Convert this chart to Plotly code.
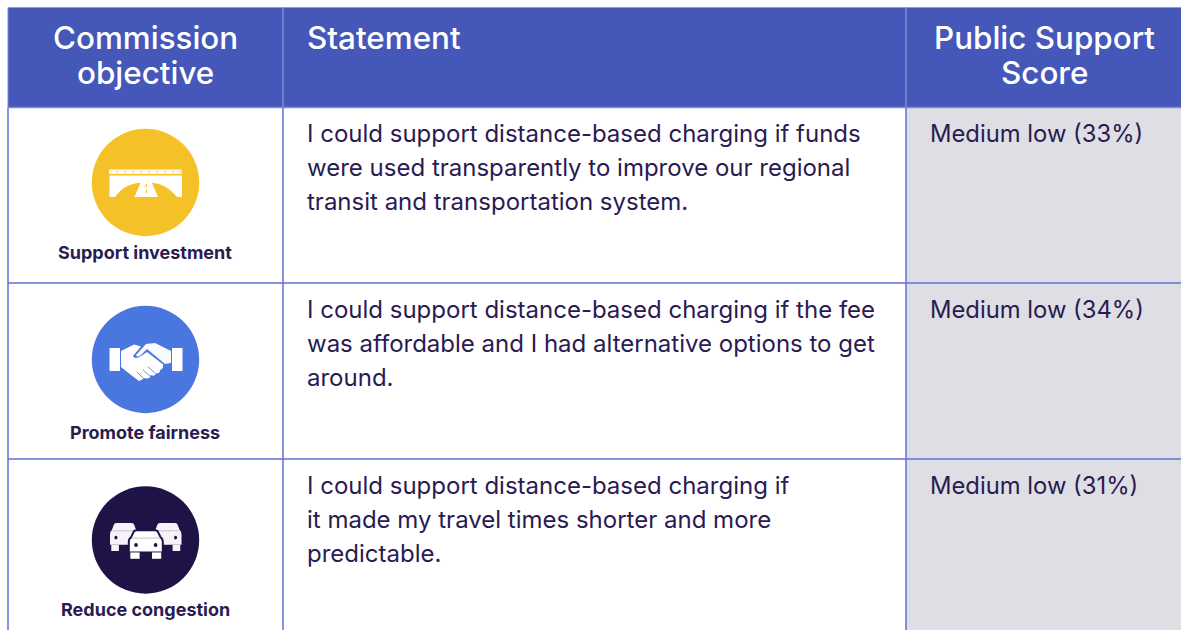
import plotly.graph_objects as go

# ---- data ----
header_lines = [["Commission", "objective"], ["Statement"], ["Public Support", "Score"]]
objectives = ["Support investment", "Promote fairness", "Reduce congestion"]
statements = [
    ["I could support distance-based charging if funds",
     "were used transparently to improve our regional",
     "transit and transportation system."],
    ["I could support distance-based charging if the fee",
     "was affordable and I had alternative options to get",
     "around."],
    ["I could support distance-based charging if",
     "it made my travel times shorter and more",
     "predictable."],
]
score_levels = ["Medium low", "Medium low", "Medium low"]
score_values = [33, 34, 31]

# ---- style ----
FONT = "Inter"
INK = "#2A1B52"
HEAD = "#4557B8"
GRID = "#5F70D2"
HEAD_GRID = "#7F8CD0"
CELL = "#DFDEE4"
ICON_COL = ["#F4C128", "#4A76E0", "#1F1247"]

W, H = 1181, 630
L, T, HB = 8, 7.5, 107.5
C1, C2 = 283, 906
ROWS = [107.5, 283, 459, 630]
ROW_TEXT_Y = [133, 309, 485]
LINE_H = 34.4
CIRCLE_Y = [182.5, 359.5, 540]
LABEL_Y = [252, 432, 609]
CX, R = 145.5, 53.7

fig = go.Figure()
shapes, ann = [], []

def rect(x0, y0, x1, y1, fill):
    shapes.append(dict(type="rect", x0=x0, y0=y0, x1=x1, y1=y1, fillcolor=fill, line_width=0, layer="below"))

def seg(x0, y0, x1, y1, col, w=1.5):
    shapes.append(dict(type="line", x0=x0, y0=y0, x1=x1, y1=y1, line=dict(color=col, width=w), layer="below"))

def path(d, fill, line=None, lw=0):
    shapes.append(dict(type="path", path=d, fillcolor=fill, line=dict(color=line or fill, width=lw), layer="above"))

def dot_at(x, y, rx, ry, fill):
    shapes.append(dict(type="circle", x0=x - rx, x1=x + rx, y0=y - ry, y1=y + ry,
                       fillcolor=fill, line_width=0, layer="above"))

def text(x, y, s, size, anchor="left", col=INK, weight=400):
    ann.append(dict(x=x, y=y, text=s, showarrow=False, xanchor=anchor, yanchor="middle",
                    font=dict(family=FONT, size=size, color=col, weight=weight), xref="x", yref="y",
                    borderpad=0, borderwidth=0))

# table frame
rect(L, T, W, HB, HEAD)
rect(C2, HB, W, H, CELL)
seg(L, T, W, T, "#8E99D6", 1)
seg(L, T, L, HB, HEAD_GRID, 1)
seg(C1, T, C1, HB, HEAD_GRID)
seg(C2, T, C2, HB, HEAD_GRID)
seg(L, HB, W, HB, HEAD_GRID)
for y in ROWS[1:3]:
    seg(L, y, W, y, GRID)
for x in (L, C1, C2):
    seg(x, HB, x, H, GRID)

# header text
HEAD_X = [(145, "center"), (307, "left"), (1044.5, "center")]
for (x, anc), lines in zip(HEAD_X, header_lines):
    for i, s in enumerate(lines):
        text(x, 37.5 + 35 * i, s, 31.4, anc, "white", 500)

# body
for r in range(3):
    for i, s in enumerate(statements[r]):
        text(306.5, ROW_TEXT_Y[r] + LINE_H * i, s, 24)
    text(930, ROW_TEXT_Y[r], f"{score_levels[r]} ({score_values[r]}%)", 23.8)
    text(CX - 0.5, LABEL_Y[r], objectives[r], 18, "center", INK, 700)
    cy = CIRCLE_Y[r]
    shapes.append(dict(type="circle", x0=CX - R, x1=CX + R, y0=cy - R, y1=cy + R,
                       fillcolor=ICON_COL[r], line_width=0, layer="below"))

# bridge icon
Y = ICON_COL[0]
path("M109,169.5 H182 V174 H109 Z", "#FBF7EA")
for dx in range(117, 182, 8):
    seg(dx, 170, dx, 173, "#E2CC84", 0.7)
    shapes[-1]["layer"] = "above"
path("M109.5,175.5 H182 V197 H177 C170,188 161,183.5 152,182.7 L158,197 H134.5 L140.5,182.7 "
     "C130,183.5 121,188 115,197 H109.5 Z", "white")
path("M146.3,184 V187 M146.3,190 V193", Y, Y, 1.2)

# handshake icon
B = "white"
path("M109.5,348 H120 V371 H109.5 Z", B)
path("M172,348 H182.5 V371 H172 Z", B)
path("M121,351 L134,344.5 L141,346.5 L133,356 Q135,360 141,356 L147,352 L163,364 Q164,369 160,370 "
     "Q160,374 156,373 Q155,377 151,375 Q149,380 145,378 L139,381 L131,375 L121,367 Z", B)
path("M171,351 L155,343 L146,344 L136,355 Q137,358 141,355 L147,349 L165,364 L171,363 Z", "#F8FAFF")
path("M147,351 L163,364 M155,373 L148,367 M150,376 L143,370 M144,379 L137,372", "rgba(0,0,0,0)", ICON_COL[1], 0.8)

# cars icon
def car(x0, y0, w, h, body, dot, outline=None):
    sx, sy = w / 33.0, h / 27.0
    X = lambda v: x0 + v * sx
    YY = lambda v: y0 + v * sy
    d = (f"M{X(5)},{YY(1)} Q{X(6)},{YY(0)} {X(8)},{YY(0)} H{X(25)} Q{X(27)},{YY(0)} {X(28)},{YY(1)} "
         f"L{X(31)},{YY(7)} Q{X(33)},{YY(8)} {X(33)},{YY(11)} V{YY(21)} H{X(0)} V{YY(11)} "
         f"Q{X(0)},{YY(8)} {X(2)},{YY(7)} Z")
    path(d, body, outline, 2 if outline else 0)
    path(f"M{X(1.5)},{YY(21)} H{X(10.5)} V{YY(27)} H{X(1.5)} Z", body, outline, 0)
    path(f"M{X(22.5)},{YY(21)} H{X(31.5)} V{YY(27)} H{X(22.5)} Z", body, outline, 0)
    path(f"M{X(3)},{YY(7.5)} H{X(30)}", "rgba(0,0,0,0)", "#B9B2C6", 0.8)
    for v in (7, 26):
        dot_at(X(v), YY(14), 1.8 * sx, 1.8 * sy, dot)

D = ICON_COL[2]
car(110, 523, 28, 28, "#F7F2F7", D)
car(153.5, 523, 28, 28, "#F7F2F7", D)
car(128.8, 530.2, 34, 28.6, "#FFFFFF", D, D)

fig.update_layout(
    width=W, height=H, autosize=False, margin=dict(l=0, r=0, t=0, b=0, pad=0),
    paper_bgcolor="white", plot_bgcolor="white", showlegend=False,
    xaxis=dict(range=[0, W], visible=False, fixedrange=True),
    yaxis=dict(range=[H, 0], visible=False, fixedrange=True),
    shapes=shapes, annotations=ann,
)
fig.write_html("out.html", config={"displayModeBar": False},
               post_script="document.body.style.margin='0';")
